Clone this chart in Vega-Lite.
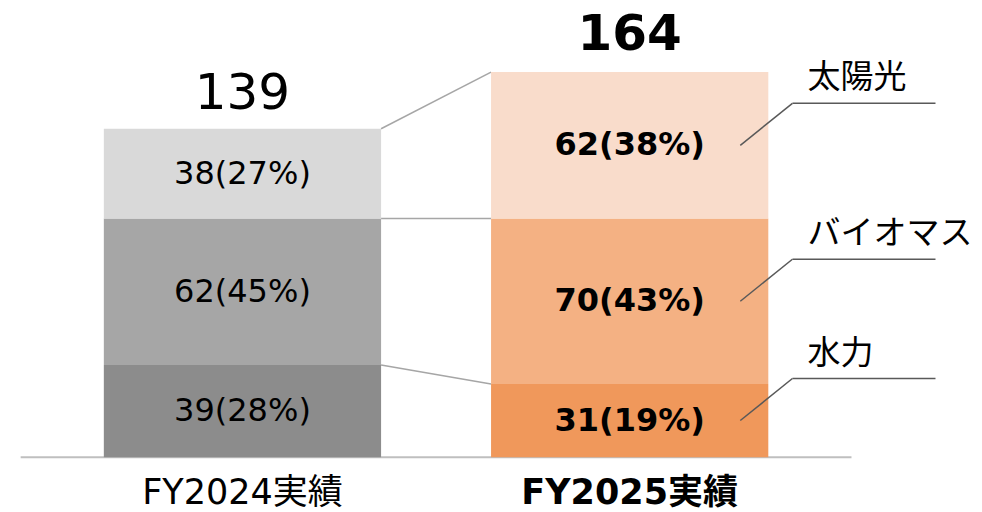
{
  "$schema": "https://vega.github.io/schema/vega-lite/v6.json",
  "width": 982,
  "height": 512,
  "padding": 0,
  "autosize": {"type": "fit", "contains": "padding"},
  "config": {"view": {"stroke": null}, "text": {"font": "DejaVu Sans, Noto Sans CJK JP", "color": "#000000"}},
  "datasets": {
    "segments": [
      {"cat": "FY2024実績", "src": "水力", "v": 39, "label": "39(28%)"},
      {"cat": "FY2024実績", "src": "バイオマス", "v": 62, "label": "62(45%)"},
      {"cat": "FY2024実績", "src": "太陽光", "v": 38, "label": "38(27%)"},
      {"cat": "FY2025実績", "src": "水力", "v": 31, "label": "31(19%)"},
      {"cat": "FY2025実績", "src": "バイオマス", "v": 70, "label": "70(43%)"},
      {"cat": "FY2025実績", "src": "太陽光", "v": 62, "label": "62(38%)"}
    ],
    "totals": [
      {"cat": "FY2024実績", "total": 139, "label": "139"},
      {"cat": "FY2025実績", "total": 164, "label": "164"}
    ],
    "connectors": [
      {"from": "FY2024実績", "to": "FY2025実績", "ya": 39, "yb": 31},
      {"from": "FY2024実績", "to": "FY2025実績", "ya": 101, "yb": 101},
      {"from": "FY2024実績", "to": "FY2025実績", "ya": 139, "yb": 163}
    ],
    "base": [
      {"from": "FY2024実績", "to": "FY2025実績", "y": 0}
    ]
  },
  "layer": [
    {
      "data": {"name": "base"},
      "mark": {"type": "rule", "color": "#bfbfbf", "strokeWidth": 2},
      "encoding": {
        "x": {"field": "from", "type": "nominal", "bandPosition": -0.3, "axis": null,
              "scale": {"domain": ["FY2024実績", "FY2025実績"], "paddingInner": 0.284, "paddingOuter": 0.41, "align": 0.327}},
        "x2": {"field": "to", "bandPosition": 1.3},
        "y": {"field": "y", "type": "quantitative", "axis": null, "scale": {"domain": [-22.8, 193.5], "nice": false, "zero": false}}
      }
    },
    {
      "data": {"name": "connectors"},
      "mark": {"type": "rule", "color": "#a6a6a6", "strokeWidth": 1.5},
      "encoding": {
        "x": {"field": "from", "type": "nominal", "bandPosition": 1, "axis": null},
        "x2": {"field": "to", "bandPosition": 0},
        "y": {"field": "ya", "type": "quantitative", "axis": null},
        "y2": {"field": "yb"}
      }
    },
    {
      "data": {"name": "segments"},
      "transform": [
        {"calculate": "indexof(['水力','バイオマス','太陽光'], datum.src)", "as": "ord"},
        {"calculate": "datum.cat + '|' + datum.src", "as": "key"},
        {"stack": "v", "groupby": ["cat"], "sort": [{"field": "ord", "order": "ascending"}], "as": ["y0", "y1"]},
        {"calculate": "(datum.y0 + datum.y1) / 2", "as": "mid"}
      ],
      "layer": [
        {
          "mark": {"type": "bar"},
          "encoding": {
            "x": {"field": "cat", "type": "nominal", "axis": null},
            "y": {"field": "y0", "type": "quantitative", "axis": null},
            "y2": {"field": "y1"},
            "color": {"field": "key", "type": "nominal", "legend": null,
              "scale": {
                "domain": ["FY2024実績|水力", "FY2024実績|バイオマス", "FY2024実績|太陽光", "FY2025実績|水力", "FY2025実績|バイオマス", "FY2025実績|太陽光"],
                "range": ["#8c8c8c", "#a6a6a6", "#d9d9d9", "#f0985b", "#f4b183", "#f9dccb"]
              }}
          }
        },
        {
          "mark": {"type": "text", "fontSize": 32, "baseline": "middle", "align": "center",
                   "fontWeight": {"expr": "datum.cat === 'FY2025実績' ? 'bold' : 'normal'"}},
          "encoding": {
            "x": {"field": "cat", "type": "nominal", "axis": null},
            "y": {"field": "mid", "type": "quantitative", "axis": null},
            "text": {"field": "label"}
          }
        },
        {
          "transform": [{"filter": "datum.cat === 'FY2025実績'"}],
          "mark": {"type": "rule", "color": "#595959", "strokeWidth": 1.5, "y2Offset": -42},
          "encoding": {
            "x": {"field": "cat", "type": "nominal", "bandPosition": 0.899, "axis": null},
            "x2": {"field": "cat", "bandPosition": 1.087},
            "y": {"field": "mid", "type": "quantitative", "axis": null},
            "y2": {"field": "mid"}
          }
        },
        {
          "transform": [{"filter": "datum.cat === 'FY2025実績'"}],
          "mark": {"type": "rule", "color": "#595959", "strokeWidth": 1.5, "yOffset": -42, "y2Offset": -42},
          "encoding": {
            "x": {"field": "cat", "type": "nominal", "bandPosition": 1.087, "axis": null},
            "x2": {"field": "cat", "bandPosition": 1.603},
            "y": {"field": "mid", "type": "quantitative", "axis": null},
            "y2": {"field": "mid"}
          }
        },
        {
          "transform": [{"filter": "datum.cat === 'FY2025実績'"}],
          "mark": {"type": "text", "fontSize": 33, "baseline": "middle", "align": "left", "dy": -67, "font": "Noto Sans CJK JP"},
          "encoding": {
            "x": {"field": "cat", "type": "nominal", "bandPosition": 1.141, "axis": null},
            "y": {"field": "mid", "type": "quantitative", "axis": null},
            "text": {"field": "src"}
          }
        }
      ]
    },
    {
      "data": {"name": "totals"},
      "layer": [
        {
          "mark": {"type": "text", "fontSize": 50, "baseline": "middle", "align": "center", "dy": -35,
                   "fontWeight": {"expr": "datum.cat === 'FY2025実績' ? 'bold' : 'normal'"}},
          "encoding": {
            "x": {"field": "cat", "type": "nominal", "axis": null},
            "y": {"field": "total", "type": "quantitative", "axis": null},
            "text": {"field": "label"}
          }
        },
        {
          "mark": {"type": "text", "fontSize": 35, "baseline": "middle", "align": "center", "y": {"expr": "scale('y', 0) + 36"},
                   "fontWeight": {"expr": "datum.cat === 'FY2025実績' ? 'bold' : 'normal'"}},
          "encoding": {
            "x": {"field": "cat", "type": "nominal", "axis": null},
            "text": {"field": "cat"}
          }
        }
      ]
    }
  ]
}
